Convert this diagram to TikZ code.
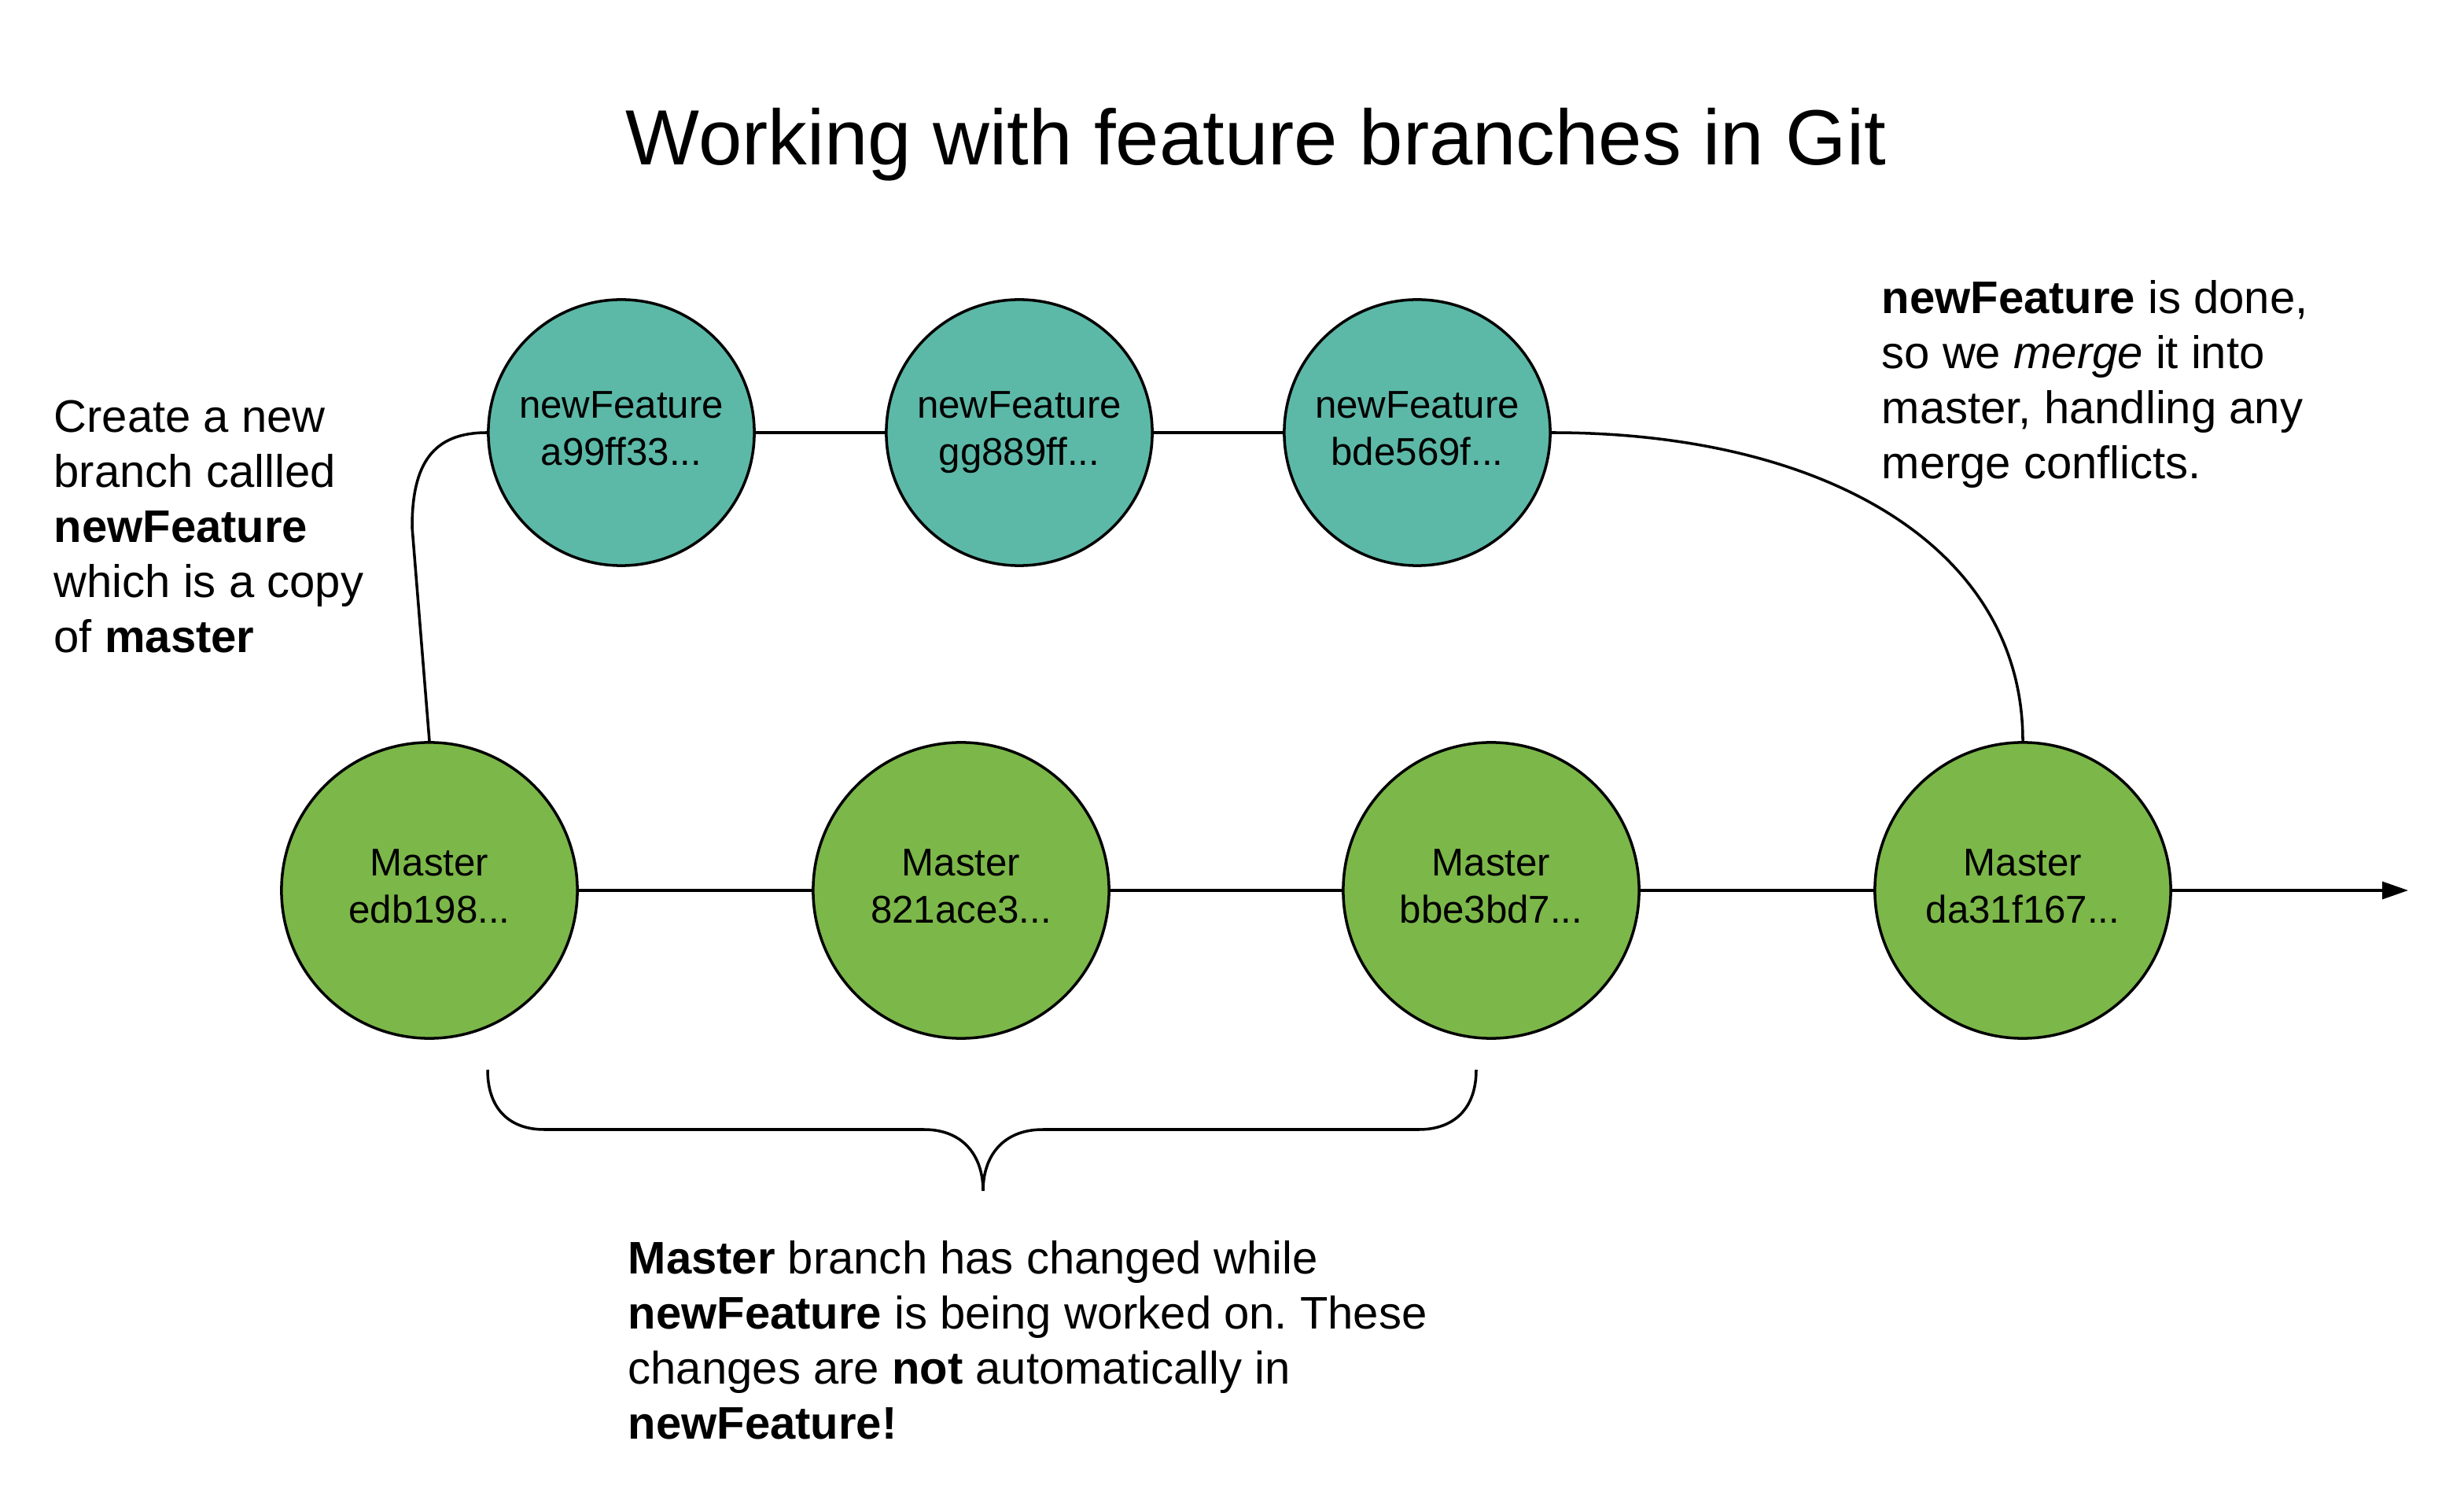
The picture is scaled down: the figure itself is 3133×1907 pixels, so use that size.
\documentclass[tikz,border=0pt]{standalone}
\usepackage{fontspec}
\setmainfont{Liberation Sans}
\usetikzlibrary{arrows.meta}
\definecolor{featfill}{HTML}{5CB9A7}
\definecolor{mastfill}{HTML}{7CB749}
\frenchspacing
\tikzset{
  feat/.style={circle, draw=black, line width=1pt, fill=featfill, minimum size=3.38cm, inner sep=0pt, align=center, font=\fontsize{14}{17}\selectfont},
  mast/.style={circle, draw=black, line width=1pt, fill=mastfill, minimum size=3.76cm, inner sep=0pt, align=center, font=\fontsize{14}{17}\selectfont},
  note/.style={anchor=north west, inner sep=0pt, align=left, font=\fontsize{16.5}{19.9}\selectfont},
  link/.style={line width=1pt, draw=black}
}
\begin{document}
\begin{tikzpicture}[x=0.01cm, y=-0.01cm]
\useasboundingbox (0,0) rectangle (3133,1907);
\node[anchor=base, inner sep=0pt, font=\fontsize{28.3}{34}\selectfont] (title) at (1597,210) {Working with feature branches in Git};

\node[feat] (f1) at (790,550) {newFeature\\a99ff33...\vphantom{g}};
\node[feat] (f2) at (1296,550) {newFeature\\gg889ff...\vphantom{g}};
\node[feat] (f3) at (1802,550) {newFeature\\bde569f...\vphantom{g}};

\node[mast] (m1) at (546,1132) {Master\\edb198...\vphantom{g}};
\node[mast] (m2) at (1222,1132) {Master\\821ace3...\vphantom{g}};
\node[mast] (m3) at (1896,1132) {Master\\bbe3bd7...\vphantom{g}};
\node[mast] (m4) at (2572,1132) {Master\\da31f167...\vphantom{g}};

\coordinate (arrowend) at (3062,1132);

\draw[link] (f1) -- (f2);
\draw[link] (f2) -- (f3);
\draw[link] (m1) -- (m2);
\draw[link] (m2) -- (m3);
\draw[link] (m3) -- (m4);
\draw[link, -{Triangle[length=0.33cm, width=0.22cm]}] (m4) -- (arrowend);

\draw[link] (f1.west) .. controls (550,550) and (524,590) .. (524,670) -- (m1.north);
\draw[link] (f3.east) .. controls (2320,550) and (2572,695) .. (m4.north);

\draw[link] (620,1360) .. controls (620,1412) and (650,1436) .. (692,1436) -- (1175,1436)
  .. controls (1225,1436) and (1250,1470) .. (1250,1514)
  .. controls (1250,1470) and (1275,1436) .. (1326,1436) -- (1804,1436)
  .. controls (1846,1436) and (1877,1412) .. (1877,1360);

\node[note] (leftnote) at (68,508) {Create a new\\branch callled\\\textbf{newFeature}\\which is a copy\\of \textbf{master}};
\node[note] (rightnote) at (2392,356) {\textbf{newFeature} is done,\\so we \textit{merge} it into\\master, handling any\\merge conflicts.};
\node[note] (bottomnote) at (798,1577) {\textbf{Master} branch has changed while\\\textbf{newFeature} is being worked on. These\\changes are \textbf{not} automatically in\\\textbf{newFeature!}};
\end{tikzpicture}
\end{document}
